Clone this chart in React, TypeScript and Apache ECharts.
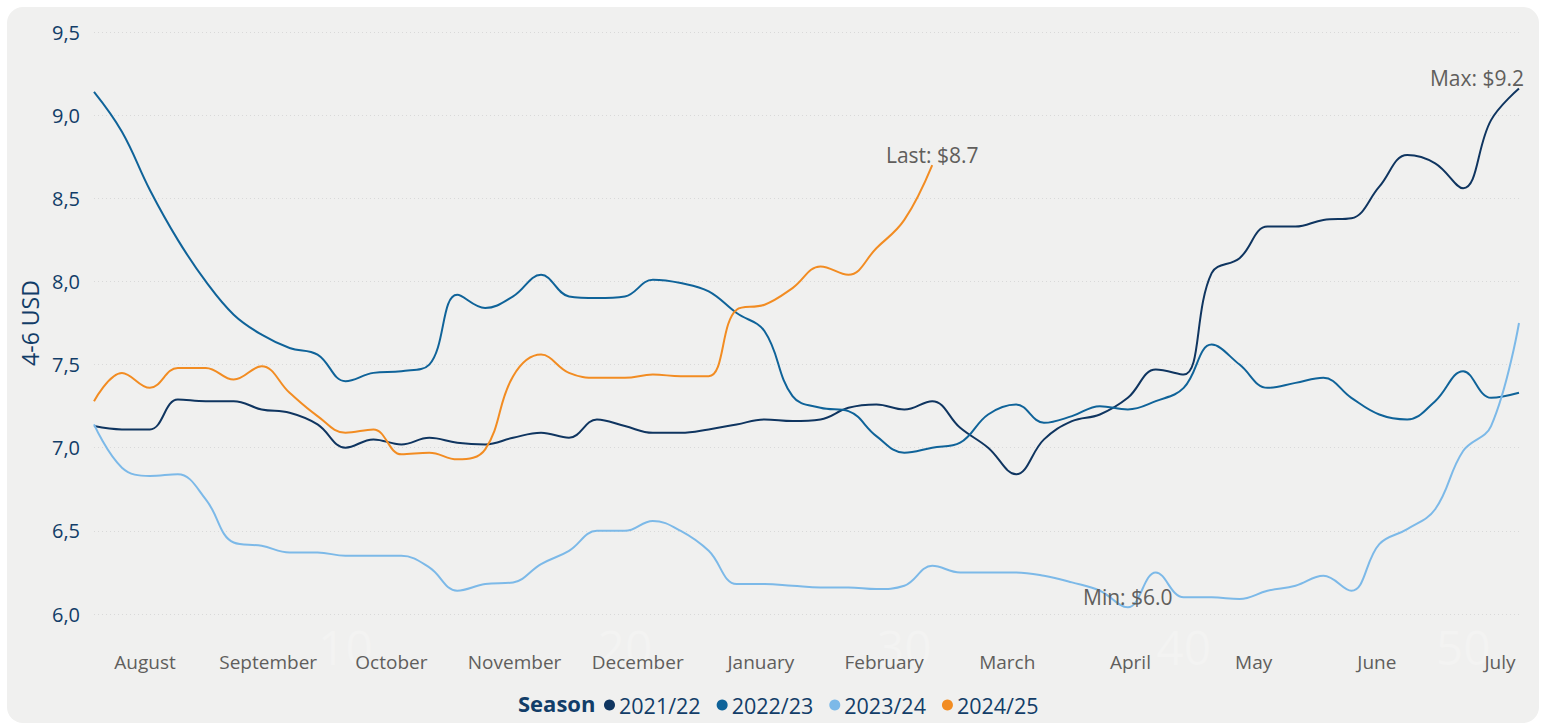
import React, { useEffect, useRef } from "react";
import * as echarts from "echarts";

const weeks = ["1","2","3","4","5","6","7","8","9","10","11","12","13","14","15","16","17","18","19","20","21","22","23","24","25","26","27","28","29","30","31","32","33","34","35","36","37","38","39","40","41","42","43","44","45","46","47","48","49","50","51","52"];
const months = ["August","September","October","November","December","January","February","March","April","May","June","July"];
const seasons = ["2021/22", "2022/23", "2023/24", "2024/25"];
const colors = ["#0f3560", "#0f6399", "#7cb9e8", "#f28c22"];

const s2122 = [7.13,7.11,7.11,7.29,7.28,7.28,7.23,7.21,7.14,7.00,7.05,7.02,7.06,7.03,7.02,7.06,7.09,7.06,7.17,7.13,7.09,7.09,7.11,7.14,7.17,7.16,7.17,7.24,7.26,7.23,7.28,7.12,7.00,6.84,7.05,7.16,7.20,7.30,7.47,7.44,8.05,8.14,8.33,8.33,8.37,8.38,8.57,8.76,8.71,8.56,8.97,9.16];
const s2223 = [9.14,8.90,8.55,8.25,8.00,7.80,7.68,7.60,7.56,7.40,7.45,7.46,7.50,7.92,7.84,7.91,8.04,7.91,7.90,7.91,8.01,7.99,7.94,7.81,7.70,7.31,7.24,7.22,7.07,6.97,7.00,7.03,7.20,7.26,7.15,7.19,7.25,7.23,7.28,7.36,7.62,7.50,7.36,7.39,7.42,7.30,7.20,7.17,7.28,7.46,7.30,7.33];
const s2324 = [7.14,6.88,6.83,6.84,6.69,6.43,6.41,6.37,6.37,6.35,6.35,6.35,6.28,6.14,6.18,6.19,6.30,6.38,6.50,6.50,6.56,6.50,6.38,6.18,6.18,6.17,6.16,6.16,6.15,6.17,6.29,6.25,6.25,6.25,6.23,6.19,6.14,6.04,6.25,6.10,6.10,6.09,6.14,6.17,6.23,6.14,6.42,6.51,6.63,6.98,7.13,7.75];
const s2425 = [7.28,7.45,7.36,7.48,7.48,7.41,7.49,7.33,7.19,7.09,7.11,6.96,6.97,6.93,6.99,7.43,7.56,7.45,7.42,7.42,7.44,7.43,7.43,7.83,7.86,7.96,8.09,8.04,8.20,8.37,8.70];
const seriesData = [s2122, s2223, s2324, s2425];

const FONT = "'Open Sans', 'Noto Sans', sans-serif";
const NAVY = "#123d68";
const GREY = "#605e5c";

export default function App() {
  const ref = useRef<HTMLDivElement>(null);
  useEffect(() => {
    if (!ref.current) return;
    const chart = echarts.init(ref.current, undefined, { renderer: "svg" });
    const labelStyle = { color: GREY, fontSize: 21, fontFamily: FONT };
    const markFor = (i: number) => {
      if (i === 0)
        return { symbol: "circle", symbolSize: 1, itemStyle: { color: "rgba(0,0,0,0)" },
          label: { ...labelStyle, show: true, position: "top", align: "right", distance: 0, offset: [5, 0], formatter: (p: any) => "Max: $" + Number(p.value).toFixed(1) },
          data: [{ type: "max" }] };
      if (i === 2)
        return { symbol: "circle", symbolSize: 1, itemStyle: { color: "rgba(0,0,0,0)" },
          label: { ...labelStyle, show: true, position: "top", distance: -1, formatter: (p: any) => "Min: $" + Number(p.value).toFixed(1) },
          data: [{ type: "min" }] };
      if (i === 3) {
        const last = s2425.length - 1;
        return { symbol: "circle", symbolSize: 1, itemStyle: { color: "rgba(0,0,0,0)" },
          label: { ...labelStyle, show: true, position: "top", distance: -1, formatter: (p: any) => "Last: $" + Number(p.value).toFixed(1) },
          data: [{ coord: [weeks[last], s2425[last]], value: s2425[last] }] };
      }
      return undefined;
    };
    chart.setOption({
      animation: false,
      textStyle: { fontFamily: FONT },
      grid: [
        { left: 94, right: 27, top: 32, bottom: 111 },
        { left: 145, right: 46, top: 32, bottom: 111 },
      ],
      xAxis: [
        {
          type: "category", gridIndex: 0, data: weeks, boundaryGap: false,
          axisLine: { show: false }, axisTick: { show: false }, splitLine: { show: false },
          axisLabel: { interval: (_i: number, v: string) => Number(v) % 10 === 0, color: "#f3f3f2", fontSize: 48, fontFamily: FONT, margin: 8 },
        },
        {
          type: "category", gridIndex: 1, data: months, boundaryGap: false,
          axisLine: { show: false }, axisTick: { show: false }, splitLine: { show: false },
          axisLabel: { interval: 0, color: GREY, fontSize: 19, fontFamily: FONT, margin: 38 },
        },
      ],
      yAxis: [
        {
          type: "value", gridIndex: 0, min: 6, max: 9.5, interval: 0.5,
          name: "4-6 USD", nameLocation: "middle", nameGap: 52,
          nameTextStyle: { color: NAVY, fontSize: 23, fontFamily: FONT },
          axisLine: { show: false }, axisTick: { show: false },
          axisLabel: { color: NAVY, fontSize: 20, fontFamily: FONT, margin: 14, formatter: (v: number) => v.toFixed(1).replace(".", ",") },
          splitLine: { show: true, lineStyle: { color: "#d9d9d9", type: [1, 3], width: 1 } },
        },
        { type: "value", gridIndex: 1, show: false, min: 6, max: 9.5 },
      ],
      legend: {
        data: seasons, left: 599, top: 689, icon: "circle", itemWidth: 11, itemHeight: 11, itemGap: 16,
        textStyle: { color: NAVY, fontSize: 21.5, fontFamily: FONT, padding: [0, 0, 0, -1] },
      },
      graphic: [
        { type: "text", left: 518, top: 692, style: { text: "Season", fill: NAVY, font: `bold 22px ${FONT}` } },
      ],
      series: seasons.map((name, i) => ({
        name, type: "line", xAxisIndex: 0, yAxisIndex: 0, data: seriesData[i],
        smooth: 0.4, showSymbol: false, symbol: "circle",
        itemStyle: { color: colors[i] },
        lineStyle: { color: colors[i], width: 2 },
        markPoint: markFor(i),
      })),
    });
    return () => chart.dispose();
  }, []);
  return (
    <div style={{ position: "fixed", left: 0, top: 0, width: 1546, height: 725, background: "#ffffff" }}>
      <div style={{ position: "absolute", left: 7, top: 7, width: 1532, height: 716, borderRadius: 16, background: "#f0f0ef" }} />
      <div ref={ref} style={{ position: "absolute", left: 0, top: 0, width: 1546, height: 725 }} />
    </div>
  );
}
